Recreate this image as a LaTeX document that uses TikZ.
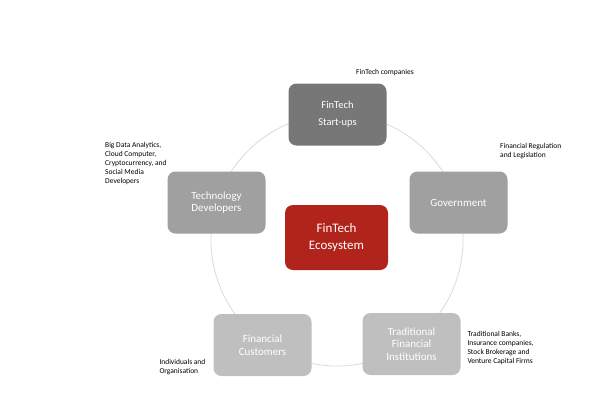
\documentclass[tikz,border=0pt]{standalone}
\usepackage{fontspec}
\setmainfont{Carlito}
\usepackage{xcolor}
\usetikzlibrary{positioning}
\definecolor{darkbox}{HTML}{777777}
\definecolor{midbox}{HTML}{A0A0A0}
\definecolor{lightbox}{HTML}{BFBFBF}
\definecolor{ecored}{HTML}{B0241C}
\definecolor{ringgray}{HTML}{DADADA}
\begin{document}
\begin{tikzpicture}[x=1pt, y=-1pt,
  part/.style={rounded corners=8pt, text=white, align=center, minimum width=98pt, minimum height=62pt, inner sep=2pt, font=\fontsize{11}{12.5}\selectfont},
  note/.style={anchor=north west, inner sep=0pt, align=left, font=\fontsize{7.5}{9}\selectfont}]
\useasboundingbox (0,0) rectangle (600,413);
\coordinate (O) at (337,240);
\draw[ringgray, line width=0.8pt] (O) circle[radius=126pt];
\node[part, fill=ecored, minimum width=103pt, minimum height=65pt, font=\fontsize{13}{17}\selectfont] (eco) at (336.5,237.5) {FinTech\\Ecosystem};
\node[part, fill=darkbox, font=\fontsize{10.5}{17}\selectfont] (start) at (337.5,114.5) {FinTech\\Start-ups};
\node[part, fill=midbox] (tech) at (216.5,202.5) {Technology\\Developers};
\node[part, fill=midbox] (gov) at (458.5,202.5) {Government};
\node[part, fill=lightbox] (cust) at (262.5,345) {Financial\\Customers};
\node[part, fill=lightbox] (inst) at (411.5,344) {Traditional\\Financial\\Institutions};
% side notes
\node[note] (startnote) at (356,69.5) {FinTech companies};
\node[note] (technote) at (105,142) {Big Data Analytics,\\Cloud Computer,\\Cryptocurrency, and\\Social Media\\Developers};
\node[note] (govnote) at (500,143.5) {Financial Regulation\\and Legislation};
\node[note] (custnote) at (159.3,359.5) {Individuals and\\Organisation};
\node[note] (instnote) at (467.3,331.3) {Traditional Banks,\\Insurance companies,\\Stock Brokerage and\\Venture Capital Firms};
\end{tikzpicture}
\end{document}
